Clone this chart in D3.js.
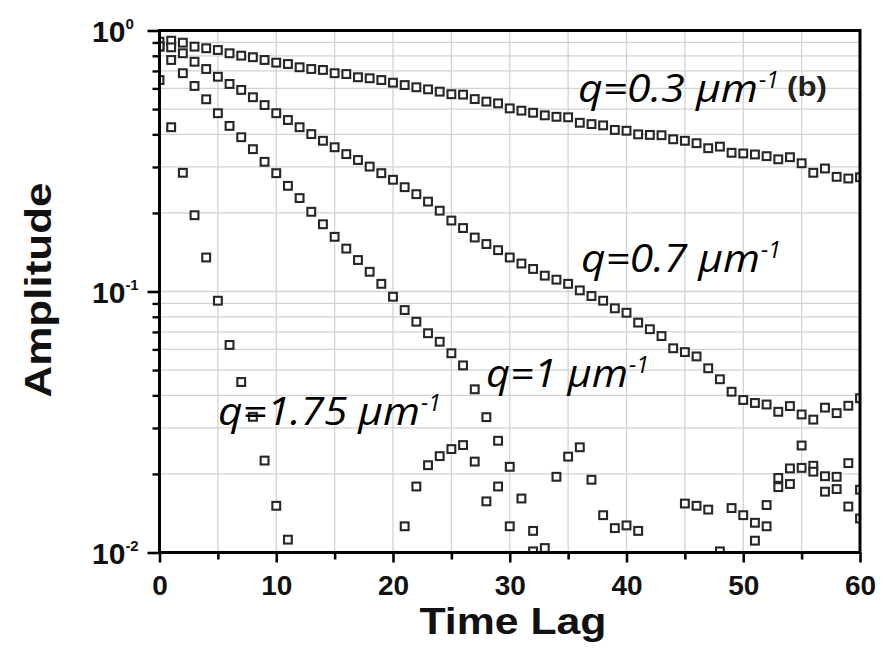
<!DOCTYPE html>
<html><head><meta charset="utf-8">
<script src="https://cdn.jsdelivr.net/npm/d3@7"></script>
<style>body{margin:0;background:#fff}</style>
</head><body>
<svg id="c" width="893" height="648"></svg>
<script>
// ---------- data ----------
const lags = [0,1,2,3,4,5,6,7,8,9,10,11,12,13,14,15,16,17,18,19,20,21,22,23,24,25,26,27,28,29,30,
  31,32,33,34,35,36,37,38,39,40,41,42,43,44,45,46,47,48,49,50,51,52,53,54,55,56,57,58,59,60];

const ampQ03 = [0.906,0.914,0.898,0.867,0.855,0.842,0.818,0.801,0.790,0.771,0.753,0.744,0.723,0.712,0.706,0.686,
  0.681,0.662,0.656,0.646,0.631,0.618,0.606,0.595,0.583,0.570,0.568,0.546,0.534,0.526,0.503,0.493,0.484,0.473,
  0.467,0.465,0.443,0.438,0.433,0.416,0.413,0.400,0.398,0.397,0.383,0.378,0.370,0.354,0.359,0.340,0.338,0.335,
  0.330,0.321,0.327,0.310,0.285,0.296,0.275,0.271,0.274];

const ampQ07 = [0.867,0.862,0.818,0.759,0.712,0.665,0.624,0.592,0.555,0.518,0.482,0.454,0.426,0.401,0.378,0.357,
  0.336,0.319,0.301,0.284,0.268,0.251,0.236,0.221,0.204,0.187,0.175,0.161,0.152,0.144,0.135,0.128,0.122,0.115,
  0.111,0.107,0.101,0.0961,0.0922,0.0862,0.0829,0.0760,0.0717,0.0675,0.0606,0.0586,0.0564,0.0508,0.0461,0.0413,
  0.0384,0.0374,0.0369,0.0346,0.0364,0.0338,0.0323,0.0359,0.0342,0.0365,0.0390];

const ampQ1 = [0.87,0.771,0.686,0.613,0.545,0.482,0.431,0.390,0.351,0.314,0.284,0.254,0.228,0.202,0.181,0.162,
  0.146,0.132,0.119,0.107,0.0955,0.0849,0.0766,0.0692,0.0642,0.0580,0.0521,0.0422,0.0330,0.0268,0.0213,0.0161,
  0.0121,0.0104,0.0195,0.0233,0.0253,0.0190,0.0139,0.0124,0.0127,0.0121,null,null,null,0.0154,0.0151,0.0146,
  0.0101,0.0148,0.0139,0.0130,0.0152,0.0193,0.0210,0.0257,0.0215,0.0196,0.0195,0.0220,0.0174];

const ampQ175 = [0.646,0.426,0.285,0.196,0.135,0.0922,0.0624,0.0450,0.0331,0.0225,0.0151,0.0112,
  null,null,null,null,null,null,null,null,null,
  0.0126,0.0179,0.0216,0.0234,0.0249,0.0258,0.0223,0.0157,0.0179,0.0126,
  null,0.0101,
  null,null,null,null,null,null,null,null,null,null,null,null,null,null,null,null,null,null,
  0.0111,0.0126,0.0178,0.0183,0.0211,0.0204,0.0171,0.0175,0.0150,0.0135];

const seriesNames = ["q=0.3","q=0.7","q=1","q=1.75"];
const seriesValues = [ampQ03, ampQ07, ampQ1, ampQ175];

const xTickValues = [0,10,20,30,40,50,60];
const xMinorValues = [5,15,25,35,45,55];
const yTickValues = [1, 0.1, 0.01];
const yTickExponents = ["0","-1","-2"];

const seriesLabels = ["q=0.3 μm","q=0.7 μm","q=1 μm","q=1.75 μm"];
const seriesLabelSup = "-1";
const panelLabel = "(b)";
const xTitle = "Time Lag";
const yTitle = "Amplitude";

// ---------- layout ----------
const W = 893, H = 648;
const m = {left:159.5, right:33, top:30.5, bottom:95.5};
const svg = d3.select("#c");

const x = d3.scaleLinear().domain([0,60]).range([m.left, W - m.right]);
const y = d3.scaleLog().domain([0.01,1]).range([H - m.bottom, m.top]);

const pw = W - m.right - m.left, ph = H - m.bottom - m.top;

const yAll = y.ticks();
const yMinor = yAll.filter(v => !yTickValues.some(t => Math.abs(t - v) < 1e-9));

// grid
const grid = svg.append("g").attr("stroke","#d2d2d2").attr("stroke-width",1.3);
grid.selectAll(".gv").data(xTickValues.concat(xMinorValues).filter(v => v > 0 && v < 60))
  .join("line").attr("x1",d=>x(d)).attr("x2",d=>x(d)).attr("y1",m.top).attr("y2",H-m.bottom);
grid.selectAll(".gh").data(yAll.filter(v => v > 0.01 && v < 1))
  .join("line").attr("y1",d=>y(d)).attr("y2",d=>y(d)).attr("x1",m.left).attr("x2",W-m.right);

svg.append("clipPath").attr("id","clip").append("rect")
  .attr("x",m.left).attr("y",m.top).attr("width",pw).attr("height",ph);

// points
const pts = [];
seriesValues.forEach((arr, si) => arr.forEach((v, i) => { if (v != null) pts.push({s:si, lag:lags[i], v}); }));
const sz = 7.8;
svg.append("g").attr("clip-path","url(#clip)")
  .selectAll("rect").data(pts).join("rect")
  .attr("x", d => x(d.lag) - sz/2).attr("y", d => y(d.v) - sz/2)
  .attr("width", sz).attr("height", sz)
  .attr("fill","#fff").attr("stroke","#262626").attr("stroke-width",2.1);

// axes
const xAxis = d3.axisBottom(x).tickValues(xTickValues).tickSize(10).tickFormat(d3.format("d"));
const gx = svg.append("g").attr("transform",`translate(0,${H-m.bottom})`).call(xAxis);
gx.select(".domain").remove();
gx.selectAll(".tick line").attr("stroke","#000").attr("stroke-width",2.6);
gx.selectAll(".tick text").attr("font-family","Liberation Sans, Arial, sans-serif")
  .attr("font-weight","bold").attr("font-size",28).attr("fill","#111").attr("dy","1.06em");
const xAxisMinor = d3.axisBottom(x).tickValues(xMinorValues).tickSize(7).tickFormat("");
const gxm = svg.append("g").attr("transform",`translate(0,${H-m.bottom})`).call(xAxisMinor);
gxm.select(".domain").remove();
gxm.selectAll(".tick line").attr("stroke","#000").attr("stroke-width",2.6);

const yAxis = d3.axisLeft(y).tickValues(yTickValues).tickSize(12).tickFormat("");
const gy = svg.append("g").attr("transform",`translate(${m.left},0)`).call(yAxis);
gy.select(".domain").remove();
gy.selectAll(".tick line").attr("stroke","#000").attr("stroke-width",2.6);
const yAxisMinor = d3.axisLeft(y).tickValues(yMinor).tickSize(7).tickFormat("");
const gym = svg.append("g").attr("transform",`translate(${m.left},0)`).call(yAxisMinor);
gym.select(".domain").remove();
gym.selectAll(".tick line").attr("stroke","#000").attr("stroke-width",2.4);

// y tick labels with superscripts
const ylab = svg.append("g").attr("font-family","Liberation Sans, Arial, sans-serif")
  .attr("font-weight","bold").attr("fill","#111");
yTickValues.forEach((v,i) => {
  const t = ylab.append("text").attr("x", 92).attr("y", y(v) + 11).attr("text-anchor","start");
  t.append("tspan").attr("font-size",30).text("10");
  t.append("tspan").attr("font-size",15).attr("dy",-13).text(yTickExponents[i]);
});

// frame
svg.append("rect").attr("x",m.left).attr("y",m.top).attr("width",pw).attr("height",ph)
  .attr("fill","none").attr("stroke","#000").attr("stroke-width",3);

// axis titles
svg.append("text").attr("x", 513).attr("y", 634).attr("text-anchor","middle")
  .attr("font-family","Liberation Sans, Arial, sans-serif").attr("font-weight","bold")
  .attr("font-size",36).attr("fill","#111")
  .attr("textLength",187).attr("lengthAdjust","spacingAndGlyphs").text(xTitle);
svg.append("text").attr("transform","translate(51,290) rotate(-90)").attr("text-anchor","middle")
  .attr("font-family","Liberation Sans, Arial, sans-serif").attr("font-weight","bold")
  .attr("font-size",36).attr("fill","#111")
  .attr("textLength",215).attr("lengthAdjust","spacingAndGlyphs").text(yTitle);

// series labels: [x start, baseline, main text width]
const labelPos = [[578,102,180],[581,272,179],[486,387,142],[218,425,202]];
const lab = svg.append("g").attr("font-family","Open Sans, sans-serif").attr("font-style","italic").attr("fill","#000");
seriesLabels.forEach((s,i) => {
  const [lx, ly, lw] = labelPos[i];
  lab.append("text").attr("x",lx).attr("y",ly).attr("font-size",38)
    .attr("textLength",lw).attr("lengthAdjust","spacingAndGlyphs").text(s);
  lab.append("text").attr("x",lx + lw + 1).attr("y",ly - 14).attr("font-size",23).text(seriesLabelSup);
});
svg.append("text").attr("x",787).attr("y",96).attr("font-family","Liberation Sans, Arial, sans-serif")
  .attr("font-weight","bold").attr("font-size",28).attr("fill","#222")
  .attr("textLength",40).attr("lengthAdjust","spacingAndGlyphs").text(panelLabel);
</script>
</body></html>
